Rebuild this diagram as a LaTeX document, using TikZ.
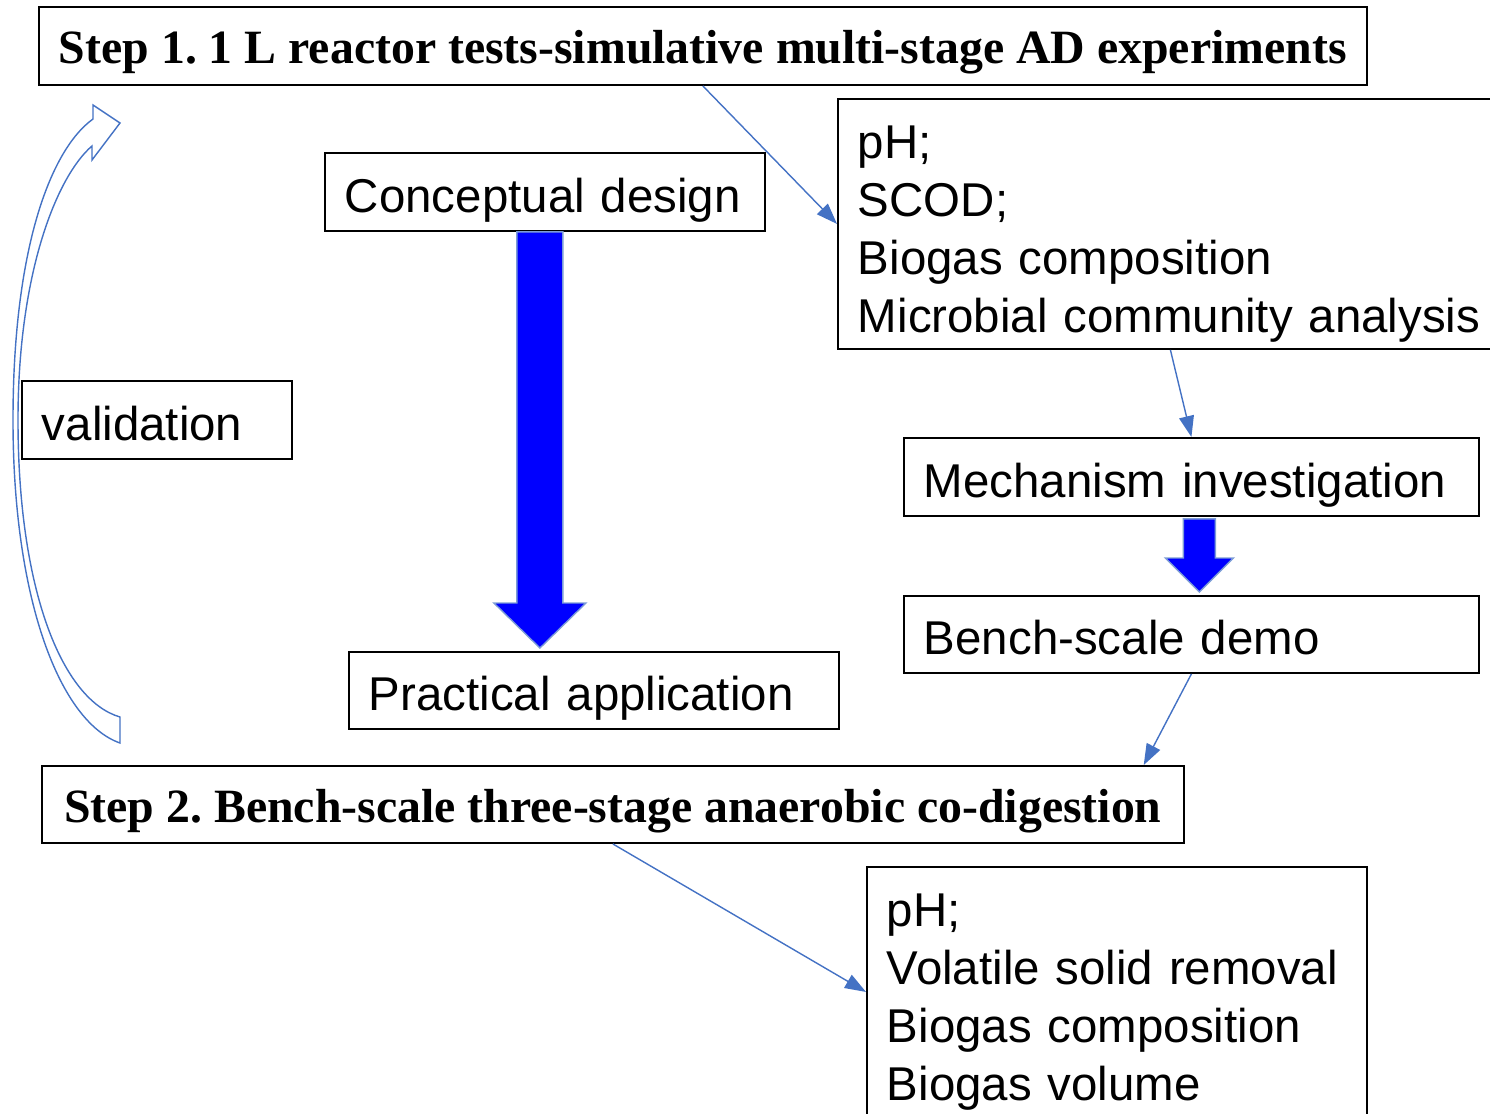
\documentclass[tikz,border=0pt]{standalone}
\usepackage{fontspec}
\setmainfont{Liberation Sans}
\newfontfamily\stepfont{Liberation Serif}
\usepackage{tikz}
\usetikzlibrary{arrows.meta,calc}
\definecolor{linkblue}{RGB}{68,114,196}
\definecolor{fillblue}{RGB}{0,0,255}
\frenchspacing

\begin{document}
\begin{tikzpicture}[x=0.02cm, y=-0.02cm,
        box/.style={rectangle, draw=black, line width=1.1pt, anchor=north west, inner xsep=0.4cm, inner ysep=0pt, align=left, text height=23pt, text depth=0pt, font=\fontsize{27}{33}\selectfont},
        listbox/.style={box, text height=24pt, text depth=99pt},
        stepbox/.style={rectangle, draw=black, line width=1.1pt, anchor=north west, inner ysep=0pt, text height=20.4pt, text depth=0pt, font=\fontsize{27.2}{33}\selectfont\stepfont\bfseries},
        arrow/.style={-{Triangle[length=0.42cm, width=0.3cm]}, draw=linkblue, line width=0.8pt},
        block/.style={draw=linkblue!70, fill=fillblue, line width=0.8pt}]

        \useasboundingbox (0,0) rectangle (1490,1113);

        \node[stepbox, minimum width=26.56cm, minimum height=1.56cm] (step1) at (38,6) {Step 1. 1 L reactor tests-simulative multi-stage AD experiments};
        \node[listbox, text width=12.5cm, minimum height=5cm] (obs1) at (837,98) {pH;\\SCOD;\\Biogas composition\\Microbial community analysis};
        \node[box, text width=8cm, minimum height=1.56cm] (concept) at (324,152) {Conceptual~design};
        \node[box, text width=4.6cm, minimum height=1.56cm] (valid) at (21,380) {validation};
        \node[box, text width=10.7cm, minimum height=1.56cm] (mech) at (903,437) {Mechanism~investigation};
        \node[box, text width=10.7cm, minimum height=1.54cm] (bench) at (903,595) {Bench-scale demo};
        \node[box, text width=9cm, minimum height=1.54cm] (practical) at (348,651) {Practical application};
        \node[stepbox, minimum width=22.84cm, minimum height=1.54cm] (step2) at (41,765) {Step 2. Bench-scale three-stage anaerobic co-digestion};
        \node[listbox, text width=9.2cm, minimum height=5cm] (obs2) at (866,866) {pH;\\Volatile solid removal\\Biogas composition\\Biogas volume};

        % thin links
        \draw[arrow] (step1.south) -- (obs1.west);
        \draw[arrow] (obs1.south) -- (mech.north);
        \draw[arrow] (bench.south) -- ([xshift=-0.82cm]step2.north east);
        \draw[arrow] (step2.south) -- (obs2.west);

        % block arrows
        \coordinate (tipA) at ($(concept.south |- practical.north)+(-5,-3)$);
        \draw[block] (tipA) -- ++(46,-45) -- ++(-23,0) |- ($(concept.south)+(17,0)$) -- ++(-45,0) |- ($(tipA)+(-23,-45)$) -- ++(-23,0) -- cycle;
        \coordinate (tipB) at ($(mech.south |- bench.north)+(8,-3)$);
        \draw[block] (tipB) -- ++(34,-34) -- ++(-18,0) |- ($(mech.south)+(24,2)$) -- ++(-32,0) |- ($(tipB)+(-16,-34)$) -- ++(-18,0) -- cycle;

        % validation loop
        \draw[linkblue, line width=0.8pt, fill=white] (120,743) .. controls (60,722) and (13,600) .. (13,420)
            .. controls (13,250) and (50,150) .. (93,119) -- (93,105) -- (120,123) -- (92,160) -- (92,146)
            .. controls (58,175) and (18,270) .. (18,420) .. controls (18,590) and (62,700) .. (120,717) -- cycle;

    \end{tikzpicture}
\end{document}
